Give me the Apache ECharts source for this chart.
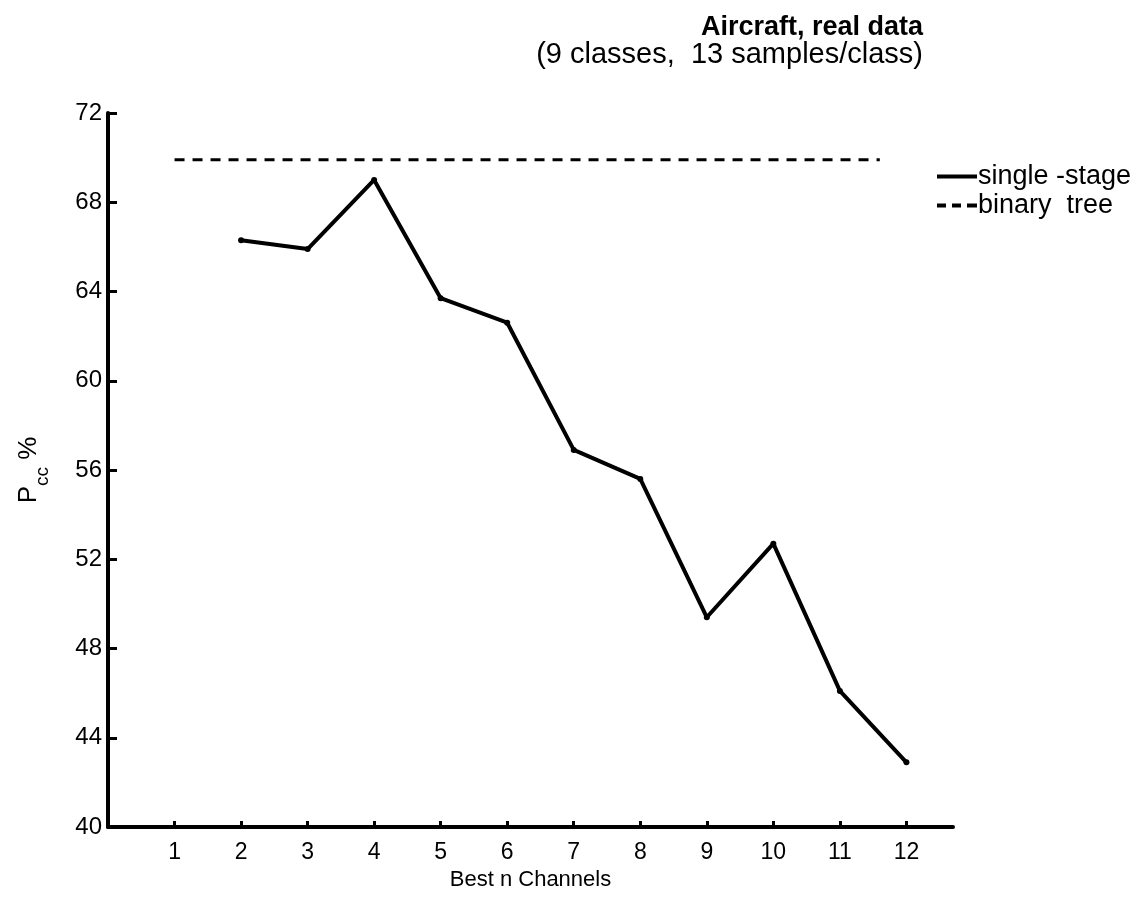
<!DOCTYPE html>
<html>
<head>
<meta charset="utf-8">
<script src="https://cdn.jsdelivr.net/npm/echarts@6/dist/echarts.min.js"></script>
<style>html,body{margin:0;padding:0;background:#fff;}#c{width:1143px;height:897px;}</style>
</head>
<body>
<div id="c"></div>
<script>
const channels = [2, 3, 4, 5, 6, 7, 8, 9, 10, 11, 12];
const singleStage = [66.3, 65.9, 69.0, 63.7, 62.6, 56.9, 55.6, 49.4, 52.7, 46.1, 42.9];
const binaryTreeX = [1, 11.6];
const binaryTreeY = [69.9, 69.9];
const yTicks = [40, 44, 48, 52, 56, 60, 64, 68, 72];

const FONT = 'Liberation Sans, Arial, sans-serif';
const chart = echarts.init(document.getElementById('c'));
chart.setOption({
  backgroundColor: '#fff',
  animation: false,
  title: {
    text: 'Aircraft, real data',
    subtext: '(9 classes,  13 samples/class)',
    left: 918, top: 9,
    textAlign: 'right',
    itemGap: -1,
    textStyle: {fontFamily: FONT, fontSize: 27, fontWeight: 'bold', color: '#000'},
    subtextStyle: {fontFamily: FONT, fontSize: 29, color: '#000'}
  },
  legend: {
    orient: 'vertical',
    left: 932, top: 158,
    itemWidth: 40, itemHeight: 4, itemGap: 2,
    textStyle: {fontFamily: FONT, fontSize: 27, color: '#000', padding: [0,0,0,-4], lineHeight: 24},
    data: [
      {name: 'single-stage', icon: 'path://M0,0H40V4H0Z'},
      {name: 'binary tree', icon: 'path://M0,0H9V4H0Z M15,0H24V4H15Z M30,0H40V4H30Z'}
    ],
    formatter: n => n === 'single-stage' ? 'single -stage' : 'binary  tree'
  },
  grid: {left: 108, right: 190, top: 113, bottom: 70},
  xAxis: {
    type: 'value', min: 0, max: 12.7, interval: 1,
    name: 'Best n Channels', nameLocation: 'middle', nameGap: 34,
    nameTextStyle: {fontFamily: FONT, fontSize: 22, color: '#000'},
    axisLine: {lineStyle: {color: '#000', width: 4}},
    axisTick: {inside: true, length: 6, lineStyle: {color: '#000', width: 3}},
    axisLabel: {
      margin: 14, fontFamily: FONT, fontSize: 23, color: '#000',
      showMinLabel: false, showMaxLabel: false,
      formatter: v => (v >= 1 && v <= 12 && Number.isInteger(v)) ? String(v) : ''
    },
    splitLine: {show: false}
  },
  yAxis: {
    type: 'value', min: yTicks[0], max: yTicks[yTicks.length - 1], interval: 4,
    name: '{p|P}{s|cc}{p| %}', nameLocation: 'middle', nameGap: 64,
    nameTextStyle: {
      fontFamily: FONT, color: '#000',
      rich: {
        p: {fontFamily: FONT, fontSize: 26, color: '#000', lineHeight: 30, verticalAlign: 'middle'},
        s: {fontFamily: FONT, fontSize: 19, color: '#000', lineHeight: 30, verticalAlign: 'bottom', padding: [0,0,-8,0]}
      }
    },
    axisLine: {show: true, lineStyle: {color: '#000', width: 4}},
    axisTick: {show: true, inside: true, length: 9, lineStyle: {color: '#000', width: 3}},
    axisLabel: {margin: 6, fontFamily: FONT, fontSize: 24, color: '#000'},
    splitLine: {show: false}
  },
  series: [
    {
      name: 'single-stage', type: 'line',
      data: channels.map((c, i) => [c, singleStage[i]]),
      symbol: 'circle', symbolSize: 6,
      itemStyle: {color: '#000'},
      lineStyle: {color: '#000', width: 4}
    },
    {
      name: 'binary tree', type: 'line',
      data: binaryTreeX.map((x, i) => [x, binaryTreeY[i]]),
      symbol: 'none',
      itemStyle: {color: '#000'},
      lineStyle: {color: '#000', width: 3, type: [10, 8]}
    }
  ]
});
</script>
</body>
</html>
